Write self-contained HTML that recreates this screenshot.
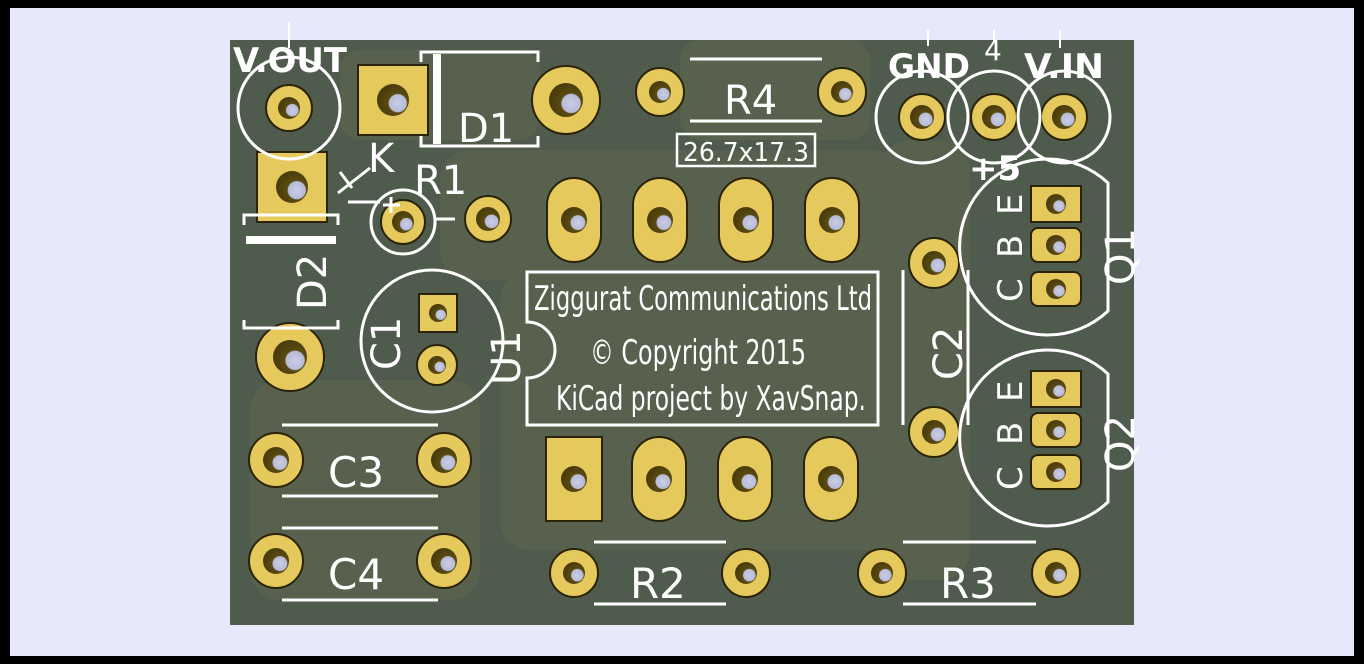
<!DOCTYPE html>
<html><head><meta charset="utf-8"><style>
html,body{margin:0;padding:0;background:#000;}
svg{display:block;}
</style></head><body>
<svg width="1364" height="664" viewBox="0 0 1364 664" xmlns="http://www.w3.org/2000/svg" font-family="'DejaVu Sans','Liberation Sans',sans-serif">
<defs>
<radialGradient id="hole" cx="0.65" cy="0.6" r="0.6"><stop offset="0" stop-color="#c9cde6"/><stop offset="0.45" stop-color="#b8bbd6"/><stop offset="0.5" stop-color="#5a4a12"/><stop offset="1" stop-color="#4a3d0a"/></radialGradient>
</defs>
<rect x="0" y="0" width="1364" height="664" fill="#000"/>
<rect x="10" y="8" width="1344" height="648" fill="#e8e8fb"/>
<rect x="230" y="40" width="904" height="585" fill="#4f5b4c"/>
<g fill="#59634f" opacity="0.8">
<rect x="340" y="50" width="200" height="90" rx="20"/>
<rect x="440" y="150" width="460" height="130" rx="30"/>
<rect x="250" y="380" width="230" height="220" rx="30"/>
<rect x="500" y="270" width="420" height="280" rx="30"/>
<rect x="880" y="140" width="90" height="440" rx="30"/>
<rect x="680" y="40" width="190" height="100" rx="20"/>
</g>
<g fill="#e6c95c" stroke="#2a2305" stroke-width="2">
<circle cx="289" cy="108" r="23"/>
<rect x="358" y="65" width="70" height="70"/>
<circle cx="566" cy="100" r="34"/>
<rect x="257" y="152" width="70" height="70"/>
<circle cx="290" cy="357" r="34"/>
<circle cx="403" cy="222" r="22"/>
<circle cx="488" cy="219" r="23"/>
<circle cx="660" cy="92" r="24"/>
<circle cx="842" cy="92" r="24"/>
<circle cx="922" cy="117" r="23"/>
<circle cx="994" cy="117" r="23"/>
<circle cx="1064" cy="117" r="23"/>
<rect x="547" y="178" width="54" height="84" rx="27"/>
<rect x="633" y="178" width="54" height="84" rx="27"/>
<rect x="719" y="178" width="54" height="84" rx="27"/>
<rect x="805" y="178" width="54" height="84" rx="27"/>
<rect x="546" y="437" width="56" height="84"/>
<rect x="632" y="437" width="54" height="84" rx="27"/>
<rect x="718" y="437" width="54" height="84" rx="27"/>
<rect x="804" y="437" width="54" height="84" rx="27"/>
<rect x="419" y="294" width="38" height="38"/>
<circle cx="437" cy="365" r="20"/>
<circle cx="934" cy="263" r="25"/>
<circle cx="934" cy="432" r="25"/>
<circle cx="276" cy="460" r="27"/>
<circle cx="444" cy="460" r="27"/>
<circle cx="276" cy="561" r="27"/>
<circle cx="444" cy="561" r="27"/>
<circle cx="574" cy="573" r="24"/>
<circle cx="746" cy="573" r="24"/>
<circle cx="882" cy="573" r="24"/>
<circle cx="1056" cy="573" r="24"/>
<rect x="1031" y="186" width="50" height="36"/>
<rect x="1031" y="228" width="50" height="34" rx="7"/>
<rect x="1031" y="272" width="50" height="34" rx="7"/>
<rect x="1031" y="371" width="50" height="36"/>
<rect x="1031" y="413" width="50" height="34" rx="7"/>
<rect x="1031" y="455" width="50" height="34" rx="7"/>
</g>
<g fill="url(#hole)">
<circle cx="289" cy="108" r="11"/><circle cx="393" cy="100" r="16"/><circle cx="566" cy="100" r="17"/>
<circle cx="292" cy="187" r="16"/><circle cx="290" cy="357" r="17"/><circle cx="403" cy="222" r="11"/>
<circle cx="488" cy="219" r="12"/><circle cx="660" cy="92" r="11"/><circle cx="842" cy="92" r="11"/>
<circle cx="922" cy="117" r="12"/><circle cx="994" cy="117" r="12"/><circle cx="1064" cy="117" r="12"/>
<circle cx="574" cy="220" r="13"/><circle cx="660" cy="220" r="13"/><circle cx="746" cy="220" r="13"/><circle cx="832" cy="220" r="13"/>
<circle cx="574" cy="479" r="13"/><circle cx="659" cy="479" r="13"/><circle cx="745" cy="479" r="13"/><circle cx="831" cy="479" r="13"/>
<circle cx="438" cy="313" r="9"/><circle cx="437" cy="365" r="9"/>
<circle cx="934" cy="263" r="12"/><circle cx="934" cy="432" r="12"/>
<circle cx="276" cy="460" r="13"/><circle cx="444" cy="460" r="13"/><circle cx="276" cy="561" r="13"/><circle cx="444" cy="561" r="13"/>
<circle cx="574" cy="573" r="11"/><circle cx="746" cy="573" r="11"/><circle cx="882" cy="573" r="11"/><circle cx="1056" cy="573" r="11"/>
<circle cx="1056" cy="204" r="10"/><circle cx="1056" cy="245" r="10"/><circle cx="1056" cy="289" r="10"/>
<circle cx="1056" cy="389" r="10"/><circle cx="1056" cy="430" r="10"/><circle cx="1056" cy="472" r="10"/>
</g>
<g fill="none" stroke="#fff" stroke-width="3">
<circle cx="289" cy="108" r="51"/>
<circle cx="922" cy="117" r="46"/><circle cx="994" cy="117" r="46"/><circle cx="1064" cy="117" r="46"/>
<path d="M289,22 V48 M994,30 V42 M1060,30 V48 M928,30 V46" stroke-width="2"/>
<path d="M421,62 V52 H538 V62 M421,136 V146 H538 V136"/>
<line x1="437" y1="54" x2="437" y2="144" stroke-width="8"/>
<path d="M244,225 V215 H338 V225 M244,320 V328 H338 V320"/>
<line x1="246" y1="240" x2="336" y2="240" stroke-width="8"/>
<path d="M338,193 L370,168 M352,188 L340,172 M348,202 H380"/>
<circle cx="403" cy="222" r="32"/>
<path d="M383,205 H400 M391,197 V213 M436,219 H455"/>
<line x1="690" y1="59" x2="822" y2="59"/><line x1="690" y1="121" x2="822" y2="121"/>
<rect x="677" y="134" width="138" height="32" stroke-width="2.5"/>
<circle cx="432" cy="341" r="71"/>
<path d="M527,272 H878 V425 H527 V378 A28,28 0 0,0 527,322 Z"/>
<line x1="903" y1="270" x2="903" y2="425"/><line x1="968" y1="270" x2="968" y2="425"/>
<path d="M1108,183 A88,88 0 1,0 1108,311 Z"/>
<path d="M1108,374 A88,88 0 1,0 1108,502 Z"/>
<line x1="282" y1="425" x2="438" y2="425"/><line x1="282" y1="496" x2="438" y2="496"/>
<line x1="282" y1="528" x2="438" y2="528"/><line x1="282" y1="600" x2="438" y2="600"/>
<line x1="594" y1="542" x2="726" y2="542"/><line x1="594" y1="604" x2="726" y2="604"/>
<line x1="903" y1="542" x2="1036" y2="542"/><line x1="903" y1="604" x2="1036" y2="604"/>
</g>
<g fill="#fff" font-size="36">
<text x="233" y="72" font-size="34" font-weight="bold" textLength="114" lengthAdjust="spacingAndGlyphs">V.OUT</text>
<text x="888" y="78" font-size="34" font-weight="bold" textLength="82" lengthAdjust="spacingAndGlyphs">GND</text>
<text x="984" y="60" font-size="28">4</text>
<text x="1024" y="78" font-size="34" font-weight="bold" textLength="80" lengthAdjust="spacingAndGlyphs">V.IN</text>
<text x="969" y="180" font-size="34" font-weight="bold">+5</text>
<text x="458" y="142" font-size="40">D1</text>
<text x="368" y="172" font-size="40">K</text>
<text x="414" y="194" font-size="40">R1</text>
<text x="724" y="114" font-size="40">R4</text>
<text x="683" y="161" font-size="26" textLength="126" lengthAdjust="spacingAndGlyphs">26.7x17.3</text>
<text transform="translate(326,310) rotate(-90)" font-size="40">D2</text>
<text transform="translate(400,370) rotate(-90)" font-size="40">C1</text>
<text transform="translate(520,385) rotate(-90)" font-size="40">U1</text>
<text transform="translate(962,380) rotate(-90)" font-size="40">C2</text>
<text transform="translate(1022,215) rotate(-90)" font-size="34">E</text>
<text transform="translate(1022,258) rotate(-90)" font-size="34">B</text>
<text transform="translate(1022,302) rotate(-90)" font-size="34">C</text>
<text transform="translate(1022,402) rotate(-90)" font-size="34">E</text>
<text transform="translate(1022,445) rotate(-90)" font-size="34">B</text>
<text transform="translate(1022,490) rotate(-90)" font-size="34">C</text>
<text transform="translate(1134,285) rotate(-90)" font-size="40">Q1</text>
<text transform="translate(1134,472) rotate(-90)" font-size="40">Q2</text>
<text x="328" y="487" font-size="42">C3</text>
<text x="328" y="589" font-size="42">C4</text>
<text x="630" y="598" font-size="42">R2</text>
<text x="940" y="598" font-size="42">R3</text>
<text x="534" y="310" font-size="34" textLength="338" lengthAdjust="spacingAndGlyphs">Ziggurat Communications Ltd</text>
<text x="590" y="364" font-size="34" textLength="216" lengthAdjust="spacingAndGlyphs">© Copyright 2015</text>
<text x="556" y="410" font-size="34" textLength="310" lengthAdjust="spacingAndGlyphs">KiCad project by XavSnap.</text>
</g>
</svg>
</body></html>
